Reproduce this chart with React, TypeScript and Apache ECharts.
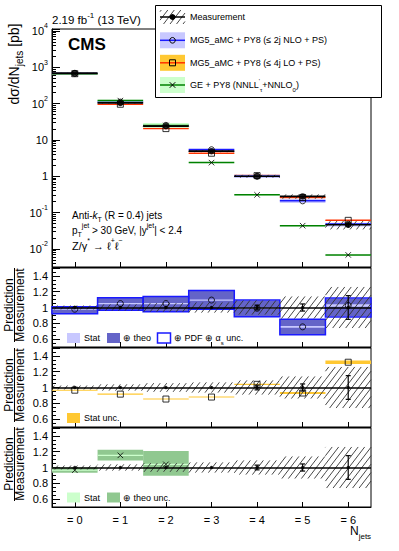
import React, { useEffect, useRef } from 'react';
import * as echarts from 'echarts';

const FONT = '"Liberation Sans", Arial, Helvetica, sans-serif';

// ---------------- data ----------------
const categories = ['= 0', '= 1', '= 2', '= 3', '= 4', '= 5', '= 6'];
const measured = [690, 105, 24, 4.9, 1.0, 0.278, 0.0463];
const measStatRel = [0.004, 0.008, 0.01, 0.012, 0.03, 0.045, 0.15];
const measTotRel = [0.025, 0.04, 0.055, 0.065, 0.09, 0.14, 0.26];

const nloMain = [675, 110, 25.2, 5.36, 1.0, 0.21, 0.048];
const loMain = [667, 96, 20.5, 4.3, 1.04, 0.259, 0.061];
const geMain = [667, 121, 25, 2.37, 0.307, 0.0435, 0.0068];

const nloRatio = [0.978, 1.05, 1.05, 1.094, 0.99, 0.755, 1.026];
const nloStatHalf = [0.006, 0.008, 0.008, 0.008, 0.01, 0.012, 0.015];
const nloTheoLo = [0.925, 0.968, 0.948, 0.982, 0.888, 0.66, 0.885];
const nloTheoHi = [1.005, 1.12, 1.135, 1.208, 1.09, 0.845, 1.115];
const nloPdfLo = [0.922, 0.965, 0.945, 0.978, 0.884, 0.656, 0.88];
const nloPdfHi = [1.008, 1.125, 1.14, 1.214, 1.094, 0.85, 1.12];

const loRatio = [0.966, 0.916, 0.854, 0.879, 1.04, 0.93, 1.32];
const loStatHalf = [0.007, 0.007, 0.007, 0.007, 0.008, 0.012, 0.022];

const geRatio = [0.966, 1.154, 1.04];
const geStatHalf = [0.006, 0.008, 0.008];
const geTheoLo = [0.935, 1.09, 0.895];
const geTheoHi = [1.0, 1.225, 1.21];

// ---------------- styling ----------------
const C_NLO_LINE = '#1a1aff';
const C_NLO_FILL = '#c8c8ff';
const C_NLO_THEO = '#6464c8';
const C_LO_LINE = '#ff3300';
const C_LO_FILL = '#ffc832';
const C_GE_LINE = '#008000';
const C_GE_FILL = '#ccffcc';
const C_GE_THEO = '#90c890';

const HATCH_STEP = 6.5;
const HATCH_SLOPE = 1.3;

function hatchSegs(x0: number, x1: number, y0: number, y1: number) {
  const segs: number[][] = [];
  const cStart = Math.floor((x0 + y0 / HATCH_SLOPE) / HATCH_STEP) * HATCH_STEP;
  const cEnd = x1 + y1 / HATCH_SLOPE;
  for (let c = cStart; c <= cEnd; c += HATCH_STEP) {
    const ya = Math.max(y0, HATCH_SLOPE * (c - x1));
    const yb = Math.min(y1, HATCH_SLOPE * (c - x0));
    if (yb > ya) segs.push([c - ya / HATCH_SLOPE, ya, c - yb / HATCH_SLOPE, yb]);
  }
  return segs;
}

function richStyles(fs: number) {
  const s = Math.round(fs * 0.68);
  return {
    t: { fontSize: fs, fontFamily: FONT, fill: '#000', color: '#000', lineHeight: fs + 6 },
    it: { fontSize: fs, fontFamily: FONT, fontStyle: 'italic', fill: '#000', color: '#000', lineHeight: fs + 6 },
    sup: { fontSize: s, fontFamily: FONT, fill: '#000', color: '#000', lineHeight: s, verticalAlign: 'top' },
    sub: { fontSize: s, fontFamily: FONT, fill: '#000', color: '#000', lineHeight: s, verticalAlign: 'bottom' },
  };
}

function txt(x: number, y: number, text: string, fs: number, opts: any = {}) {
  return {
    type: 'text',
    x,
    y,
    z: 101,
    rotation: opts.rot || 0,
    style: {
      text,
      rich: richStyles(fs),
      font: `${opts.weight || 'normal'} ${fs}px ${FONT}`,
      fill: '#000',
      align: opts.align || 'left',
      verticalAlign: 'middle',
      textAlign: opts.align || 'left',
      textVerticalAlign: 'middle',
    },
  };
}

// ---------------- render helpers ----------------
function renderBand(fill: string | null, stroke: string | null, lineW: number, outline?: string) {
  return (params: any, api: any) => {
    const i = api.value(0);
    const c = api.coord([i, api.value(1)]);
    const lo = api.coord([i, api.value(2)]);
    const hi = api.coord([i, api.value(3)]);
    const w = api.size([1, 1])[0];
    const x0 = c[0] - w / 2;
    const children: any[] = [];
    if (fill || outline) {
      children.push({
        type: 'rect',
        shape: { x: x0, y: hi[1], width: w, height: Math.max(lo[1] - hi[1], 0.6) },
        style: { fill: fill || 'none', stroke: outline || 'none', lineWidth: outline ? 1.5 : 0 },
      });
    }
    if (stroke) {
      children.push({
        type: 'line',
        shape: { x1: x0, y1: c[1], x2: x0 + w, y2: c[1] },
        style: { stroke, lineWidth: lineW },
      });
    }
    return { type: 'group', children };
  };
}

function renderHatch(withLine: boolean) {
  return (params: any, api: any) => {
    const i = api.value(0);
    const c = api.coord([i, api.value(1)]);
    const lo = api.coord([i, api.value(2)]);
    const hi = api.coord([i, api.value(3)]);
    const w = api.size([1, 1])[0];
    const x0 = c[0] - w / 2;
    const x1 = c[0] + w / 2;
    const children: any[] = hatchSegs(x0, x1, hi[1], lo[1]).map((s) => ({
      type: 'line',
      shape: { x1: s[0], y1: s[1], x2: s[2], y2: s[3] },
      style: { stroke: '#333', lineWidth: 0.9 },
    }));
    if (withLine) {
      children.push({
        type: 'line',
        shape: { x1: x0, y1: c[1], x2: x1, y2: c[1] },
        style: { stroke: '#000', lineWidth: 1.6 },
      });
    }
    return { type: 'group', children };
  };
}

function renderErr(cap: number) {
  return (params: any, api: any) => {
    const i = api.value(0);
    const lo = api.coord([i, api.value(1)]);
    const hi = api.coord([i, api.value(2)]);
    const st = { stroke: '#000', lineWidth: 1.2 };
    const children: any[] = [{ type: 'line', shape: { x1: lo[0], y1: lo[1], x2: hi[0], y2: hi[1] }, style: st }];
    if (cap > 0 && lo[1] - hi[1] > 4) {
      children.push({ type: 'line', shape: { x1: lo[0] - cap, y1: lo[1], x2: lo[0] + cap, y2: lo[1] }, style: st });
      children.push({ type: 'line', shape: { x1: hi[0] - cap, y1: hi[1], x2: hi[0] + cap, y2: hi[1] }, style: st });
    }
    return { type: 'group', children };
  };
}

const X_MARK = 'path://M0,0L10,10M10,0L0,10';

function custom(ax: number, data: any[], renderItem: any, z = 2) {
  return {
    type: 'custom',
    xAxisIndex: ax,
    yAxisIndex: ax,
    data,
    renderItem,
    z,
    silent: true,
    clip: false,
    encode: { x: 0, y: 1 },
  };
}

function scatter(ax: number, data: any[], symbol: string, size: number, itemStyle: any, z = 5, extra: any = {}) {
  return {
    type: 'scatter',
    xAxisIndex: ax,
    yAxisIndex: ax,
    data,
    symbol,
    symbolSize: size,
    itemStyle,
    z,
    silent: true,
    ...extra,
  };
}

// ---------------- legends / texts ----------------
function mainLegend() {
  const els: any[] = [];
  els.push({
    type: 'rect',
    z: 100,
    shape: { x: 155.5, y: 5.5, width: 226, height: 92 },
    style: { fill: '#fff', stroke: '#000', lineWidth: 1 },
  });
  const sx0 = 160;
  const sx1 = 185;
  const cx = 172.5;
  hatchSegs(sx0, sx1, 10, 24).forEach((s) =>
    els.push({ type: 'line', z: 101, shape: { x1: s[0], y1: s[1], x2: s[2], y2: s[3] }, style: { stroke: '#333', lineWidth: 0.9 } })
  );
  els.push({ type: 'line', z: 101, shape: { x1: sx0, y1: 17, x2: sx1, y2: 17 }, style: { stroke: '#000', lineWidth: 1.5 } });
  els.push({ type: 'circle', z: 102, shape: { cx, cy: 17, r: 3 }, style: { fill: '#000' } });
  const rows = [
    { y: 40.3, fill: C_NLO_FILL, line: C_NLO_LINE, mark: 'circle' },
    { y: 62.8, fill: C_LO_FILL, line: C_LO_LINE, mark: 'square' },
    { y: 85, fill: C_GE_FILL, line: C_GE_LINE, mark: 'x' },
  ];
  rows.forEach((r) => {
    els.push({ type: 'rect', z: 101, shape: { x: sx0, y: r.y - 8, width: sx1 - sx0, height: 16 }, style: { fill: r.fill } });
    els.push({ type: 'line', z: 101, shape: { x1: sx0, y1: r.y, x2: sx1, y2: r.y }, style: { stroke: r.line, lineWidth: 1.5 } });
    if (r.mark === 'circle') {
      els.push({ type: 'circle', z: 102, shape: { cx, cy: r.y, r: 2.8 }, style: { fill: 'none', stroke: '#000', lineWidth: 1 } });
    } else if (r.mark === 'square') {
      els.push({ type: 'rect', z: 102, shape: { x: cx - 3, y: r.y - 3, width: 6, height: 6 }, style: { fill: 'none', stroke: '#000', lineWidth: 1 } });
    } else {
      els.push({ type: 'line', z: 102, shape: { x1: cx - 2.8, y1: r.y - 2.8, x2: cx + 2.8, y2: r.y + 2.8 }, style: { stroke: '#000', lineWidth: 1 } });
      els.push({ type: 'line', z: 102, shape: { x1: cx - 2.8, y1: r.y + 2.8, x2: cx + 2.8, y2: r.y - 2.8 }, style: { stroke: '#000', lineWidth: 1 } });
    }
  });
  els.push(txt(190, 17, '{t|Measurement}', 9));
  els.push(txt(190, 40.3, '{t|MG5_aMC + PY8 (≤ 2j NLO + PS)}', 9));
  els.push(txt(190, 62.8, '{t|MG5_aMC + PY8 (≤ 4j LO + PS)}', 9));
  els.push(txt(190, 85, '{t|GE + PY8 (NNLL}{sup|\'}{sub|τ}{t|+NNLO}{sub|0}{t|)}', 9));
  return els;
}

function ratioLegends() {
  const els: any[] = [];
  const box = (x: number, y: number, fill: string, stroke?: string) =>
    els.push({
      type: 'rect',
      z: 100,
      shape: { x, y: y - 5, width: 13, height: 10 },
      style: { fill, stroke: stroke || 'none', lineWidth: stroke ? 1.5 : 0 },
    });
  box(67, 338, C_NLO_FILL);
  els.push(txt(84, 338, '{t|Stat}', 9));
  box(107, 338, C_NLO_THEO);
  els.push(txt(123, 338, '{t|⊕ theo}', 9));
  box(157.5, 338, '#fff', C_NLO_LINE);
  els.push(txt(174, 338, '{t|⊕ PDF ⊕ α}{sub|s}{t| unc.}', 9));
  box(67, 418, C_LO_FILL);
  els.push(txt(84, 418, '{t|Stat unc.}', 9));
  box(67, 497.5, C_GE_FILL);
  els.push(txt(84, 497.5, '{t|Stat}', 9));
  box(107, 497.5, C_GE_THEO);
  els.push(txt(123, 497.5, '{t|⊕ theo unc.}', 9));
  return els;
}

function titles() {
  const els: any[] = [];
  els.push(txt(52, 20, '{t|2.19 fb}{sup|-1}{t| (13 TeV)}', 11.5));
  els.push({
    type: 'text',
    x: 68,
    y: 44,
    z: 101,
    style: { text: 'CMS', font: `bold 17px ${FONT}`, fill: '#000', align: 'left', verticalAlign: 'middle', textAlign: 'left', textVerticalAlign: 'middle' },
  });
  els.push(txt(14, 64, '{t|dσ/dN}{sub|jets}{t| [pb]}', 14, { rot: Math.PI / 2, align: 'center' }));
  els.push(txt(72, 215, '{t|Anti-}{it|k}{sub|T}{t| (R = 0.4) jets}', 10));
  els.push(txt(72, 230, '{t|p}{sub|T}{sup|jet}{t| > 30 GeV, |y}{sup|jet}{t|| < 2.4}', 10));
  els.push(txt(72, 245.5, '{t|Z/γ}{sup|*}{t| → ℓ}{sup|+}{t|ℓ}{sup|−}', 11));
  els.push(txt(350, 531, '{t|N}{sub|jets}', 12));
  const centers = [305, 385, 464];
  centers.forEach((pc) => {
    els.push(txt(8.8, pc, '{t|Prediction}', 12, { rot: Math.PI / 2, align: 'center' }));
    els.push(txt(20.2, pc, '{t|Measurement}', 12, { rot: Math.PI / 2, align: 'center' }));
    els.push({ type: 'line', z: 101, shape: { x1: 14.5, y1: pc - 37, x2: 14.5, y2: pc + 37 }, style: { stroke: '#000', lineWidth: 1 } });
  });
  return els;
}

// ---------------- option ----------------
function buildOption() {
  const grids = [
    { left: 52, top: 29, width: 319, height: 238 },
    { left: 52, top: 268, width: 319, height: 79 },
    { left: 52, top: 348, width: 319, height: 79 },
    { left: 52, top: 428, width: 319, height: 79 },
  ].map((g) => ({ ...g, show: true, borderColor: '#000', borderWidth: 1, backgroundColor: 'transparent', containLabel: false }));

  const xAxes = grids.map((_, k) => ({
    type: 'category',
    gridIndex: k,
    data: categories,
    boundaryGap: true,
    axisLine: { show: true, onZero: false, lineStyle: { color: '#000' } },
    axisTick: { show: true, inside: true, alignWithLabel: true, interval: 0, length: 5, lineStyle: { color: '#000' } },
    axisLabel: { show: k === 3, interval: 0, fontSize: 11, color: '#000', fontFamily: FONT, margin: 7 },
    splitLine: { show: false },
  }));

  const logLabel = (v: number) => {
    const e = Math.round(Math.log10(v));
    if (e === 0) return '{t|1}';
    if (e === 1) return '{t|10}';
    return `{t|10}{sup|${e}}`;
  };

  const yAxes: any[] = [
    {
      type: 'log',
      gridIndex: 0,
      logBase: 10,
      min: Math.pow(10, -2.5),
      max: Math.pow(10, 4.055),
      axisLine: { show: true, lineStyle: { color: '#000' } },
      axisTick: { show: true, inside: true, length: 8, lineStyle: { color: '#000' } },
      minorTick: { show: true, splitNumber: 9, length: 4, lineStyle: { color: '#000' } },
      splitLine: { show: false },
      minorSplitLine: { show: false },
      axisLabel: {
        showMinLabel: false,
        showMaxLabel: false,
        margin: 4,
        formatter: logLabel,
        rich: richStyles(11),
      },
    },
  ];
  for (let k = 1; k <= 3; k++) {
    yAxes.push({
      type: 'value',
      gridIndex: k,
      min: 0.5,
      max: 1.5,
      splitNumber: 5,
      axisLine: { show: true, lineStyle: { color: '#000' } },
      axisTick: { show: true, inside: true, length: 8, lineStyle: { color: '#000' } },
      minorTick: { show: true, splitNumber: 4, length: 4, lineStyle: { color: '#000' } },
      splitLine: { show: false },
      minorSplitLine: { show: false },
      axisLabel: {
        showMinLabel: false,
        showMaxLabel: false,
        margin: 4,
        fontSize: 11,
        color: '#000',
        fontFamily: FONT,
        formatter: (v: number) => String(+v.toFixed(2)),
      },
    });
  }

  const idx = categories.map((_, i) => i);
  const series: any[] = [];

  // ---- main panel ----
  series.push(custom(0, idx.map((i) => [i, loMain[i], loMain[i] * (1 - loStatHalf[i] / loRatio[i]), loMain[i] * (1 + loStatHalf[i] / loRatio[i])]), renderBand(C_LO_FILL, C_LO_LINE, 1.5), 2));
  series.push(custom(0, idx.map((i) => [i, nloMain[i], (nloMain[i] * nloPdfLo[i]) / nloRatio[i], (nloMain[i] * nloPdfHi[i]) / nloRatio[i]]), renderBand(C_NLO_FILL, C_NLO_LINE, 1.5), 2));
  series.push(
    custom(
      0,
      idx.map((i) =>
        i < geRatio.length
          ? [i, geMain[i], (geMain[i] * geTheoLo[i]) / geRatio[i], (geMain[i] * geTheoHi[i]) / geRatio[i]]
          : [i, geMain[i], geMain[i], geMain[i]]
      ),
      renderBand(C_GE_FILL, C_GE_LINE, 1.5),
      2
    )
  );
  series.push(custom(0, idx.map((i) => [i, measured[i], measured[i] * (1 - measTotRel[i]), measured[i] * (1 + measTotRel[i])]), renderHatch(true), 3));
  series.push(custom(0, idx.map((i) => [i, measured[i] * (1 - measStatRel[i]), measured[i] * (1 + measStatRel[i])]), renderErr(0), 4));
  series.push(scatter(0, idx.map((i) => [i, nloMain[i]]), 'circle', 6, { color: 'rgba(0,0,0,0)', borderColor: '#000', borderWidth: 1 }, 5));
  series.push(scatter(0, idx.map((i) => [i, loMain[i]]), 'rect', 6, { color: 'rgba(0,0,0,0)', borderColor: '#000', borderWidth: 1 }, 5));
  series.push(scatter(0, idx.map((i) => [i, geMain[i]]), X_MARK, 5.5, { color: 'rgba(0,0,0,0)', borderColor: '#000', borderWidth: 1 }, 5));
  series.push(scatter(0, idx.map((i) => [i, measured[i]]), 'circle', 6.5, { color: '#000' }, 6));

  const measRatio = (ax: number) => {
    series.push(custom(ax, idx.map((i) => [i, 1, 1 - measTotRel[i], 1 + measTotRel[i]]), renderHatch(false), 3));
    series.push(custom(ax, idx.map((i) => [i, 1 - measStatRel[i], 1 + measStatRel[i]]), renderErr(2.5), 4));
    series.push(
      scatter(ax, idx.map((i) => [i, 1]), 'circle', 3.5, { color: '#000' }, 4, {
        markLine: {
          silent: true,
          symbol: 'none',
          label: { show: false },
          lineStyle: { color: '#000', width: 1.5, type: 'solid' },
          data: [{ yAxis: 1 }],
          z: 4,
        },
      })
    );
  };

  // panel 1 (NLO)
  series.push(custom(1, idx.map((i) => [i, nloRatio[i], nloTheoLo[i], nloTheoHi[i]]), renderBand(C_NLO_THEO, null, 0), 2));
  series.push(custom(1, idx.map((i) => [i, nloRatio[i], nloRatio[i] - nloStatHalf[i], nloRatio[i] + nloStatHalf[i]]), renderBand(C_NLO_FILL, null, 0), 2));
  series.push(custom(1, idx.map((i) => [i, nloRatio[i], nloPdfLo[i], nloPdfHi[i]]), renderBand(null, null, 0, C_NLO_LINE), 2));
  measRatio(1);
  series.push(scatter(1, idx.map((i) => [i, nloRatio[i]]), 'circle', 6, { color: 'rgba(0,0,0,0)', borderColor: '#000', borderWidth: 1 }, 6));

  // panel 2 (LO)
  series.push(custom(2, idx.map((i) => [i, loRatio[i], loRatio[i] - loStatHalf[i], loRatio[i] + loStatHalf[i]]), renderBand(C_LO_FILL, null, 0), 2));
  measRatio(2);
  series.push(scatter(2, idx.map((i) => [i, loRatio[i]]), 'rect', 6, { color: 'rgba(0,0,0,0)', borderColor: '#000', borderWidth: 1 }, 6));

  // panel 3 (GE)
  const gIdx = geRatio.map((_, i) => i);
  series.push(custom(3, gIdx.map((i) => [i, geRatio[i], geTheoLo[i], geTheoHi[i]]), renderBand(C_GE_THEO, null, 0), 2));
  series.push(custom(3, gIdx.map((i) => [i, geRatio[i], geRatio[i] - geStatHalf[i], geRatio[i] + geStatHalf[i]]), renderBand(C_GE_FILL, null, 0), 2));
  measRatio(3);
  series.push(scatter(3, gIdx.map((i) => [i, geRatio[i]]), X_MARK, 5.5, { color: 'rgba(0,0,0,0)', borderColor: '#000', borderWidth: 1 }, 6));

  return {
    animation: false,
    backgroundColor: '#fff',
    textStyle: { fontFamily: FONT },
    grid: grids,
    xAxis: xAxes,
    yAxis: yAxes,
    series,
    graphic: [...titles(), ...mainLegend(), ...ratioLegends()],
  };
}

export default function App() {
  const ref = useRef<HTMLDivElement>(null);
  useEffect(() => {
    if (!ref.current) return;
    const chart = echarts.init(ref.current, null, { renderer: 'svg' });
    chart.setOption(buildOption() as any);
    return () => chart.dispose();
  }, []);
  return <div ref={ref} style={{ position: 'fixed', left: 0, top: 0, width: 399, height: 551, background: '#fff' }} />;
}
